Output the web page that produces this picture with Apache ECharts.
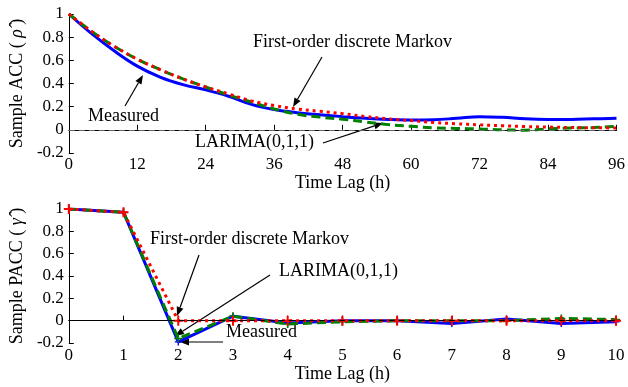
<!DOCTYPE html>
<html>
<head>
<meta charset="utf-8">
<title>ACC / PACC</title>
<script src="https://cdn.jsdelivr.net/npm/echarts@6/dist/echarts.min.js"></script>
<style>
  html, body { margin: 0; padding: 0; background: #fff; }
  #main { width: 628px; height: 387px; }
</style>
</head>
<body>
<div id="main"></div>
<script>
// ACC (top panel), lags in hours
var accLags = [0, 4, 8, 12, 16, 20, 24, 28, 32, 36, 40, 44, 48, 52, 56, 60, 64, 68, 72, 76, 80, 84, 88, 92, 96];
var accMeasured = [1, 0.83, 0.68, 0.55, 0.455, 0.39, 0.345, 0.29, 0.22, 0.175, 0.148, 0.13, 0.114, 0.1, 0.09, 0.085, 0.087, 0.1, 0.114, 0.108, 0.095, 0.09, 0.09, 0.095, 0.1];
var accLarima = [1, 0.85, 0.72, 0.61, 0.52, 0.44, 0.37, 0.3, 0.24, 0.18, 0.135, 0.11, 0.092, 0.068, 0.045, 0.03, 0.018, 0.012, 0.008, 0.0, -0.003, 0.008, 0.015, 0.02, 0.03];
var accMarkov = [1, 0.85, 0.72, 0.61, 0.52, 0.44, 0.37, 0.31, 0.25, 0.21, 0.18, 0.16, 0.14, 0.115, 0.095, 0.08, 0.064, 0.052, 0.043, 0.035, 0.028, 0.024, 0.02, 0.018, 0.016];

// PACC (bottom panel)
var paccLags = [0, 1, 2, 3, 4, 5, 6, 7, 8, 9, 10];
var paccMeasured = [1, 0.97, -0.19, 0.04, -0.02, 0, 0, -0.025, 0.015, -0.025, -0.01];
var paccLarima = [1, 0.97, -0.16, 0.04, -0.03, -0.01, 0, 0, 0, 0.02, 0.01];
var paccMarkov = [1, 0.97, 0, 0, 0, 0, 0, 0, 0, 0, 0];

var FONT = 'Liberation Serif';
var plus = 'path://M4,0H6V4H10V6H6V10H4V6H0V4H4Z';

function pairs(xs, ys) {
  return xs.map(function (x, i) { return [x, ys[i]]; });
}

function arrow(x1, y1, x2, y2) {
  var dx = x2 - x1, dy = y2 - y1, len = Math.sqrt(dx * dx + dy * dy);
  var ux = dx / len, uy = dy / len, hl = 9, hw = 3.5;
  var bx = x2 - ux * hl, by = y2 - uy * hl;
  return [{
    type: 'line', silent: true,
    shape: { x1: x1, y1: y1, x2: bx, y2: by },
    style: { stroke: '#000', lineWidth: 1.2 }
  }, {
    type: 'polygon', silent: true,
    shape: { points: [[x2, y2], [bx - uy * hw, by + ux * hw], [bx + uy * hw, by - ux * hw]] },
    style: { fill: '#000' }
  }];
}

function label(txt, x, y) {
  return {
    type: 'text', silent: true, left: x, top: y,
    style: { text: txt, font: '18px ' + FONT, fill: '#000' }
  };
}

var axisLine = { show: true, lineStyle: { color: '#000', width: 1 } };
var axisTick = { show: true, inside: true, length: 5, lineStyle: { color: '#000' } };
var tickFont = { color: '#000', fontFamily: FONT, fontSize: 17 };
var nameFont = {
  color: '#000', fontFamily: FONT, fontSize: 18,
  rich: { i: { fontFamily: FONT, fontSize: 18, fontStyle: 'italic', color: '#000' } }
};

function zeroLine(color) {
  return {
    silent: true, symbol: 'none', label: { show: false },
    lineStyle: { color: color, type: [6, 4], width: 1 },
    data: [{ yAxis: 0 }]
  };
}

var chart = echarts.init(document.getElementById('main'));
chart.setOption({
  animation: false,
  grid: [
    { left: 63, top: 14, width: 557, height: 139 },
    { left: 65.5, top: 209, width: 550.5, height: 134 }
  ],
  xAxis: [{
    gridIndex: 0, type: 'value', min: 0, max: 96, interval: 12,
    name: 'Time Lag (h)', nameLocation: 'middle', nameGap: 19, nameTextStyle: nameFont,
    axisLine: axisLine, axisTick: axisTick, splitLine: { show: false },
    axisLabel: Object.assign({ margin: 3 }, tickFont)
  }, {
    gridIndex: 1, type: 'value', min: 0, max: 10, interval: 1,
    name: 'Time Lag (h)', nameLocation: 'middle', nameGap: 21, nameTextStyle: nameFont,
    axisLine: axisLine, axisTick: axisTick, splitLine: { show: false },
    axisLabel: Object.assign({ margin: 4 }, tickFont)
  }],
  yAxis: [{
    gridIndex: 0, type: 'value', min: -0.2, max: 1, interval: 0.2,
    name: 'Sample ACC ( {i|\u03C1\u0302} )', nameLocation: 'middle', nameGap: 35, nameTextStyle: nameFont,
    axisLine: axisLine, axisTick: axisTick, splitLine: { show: false },
    axisLabel: Object.assign({ margin: 5 }, tickFont)
  }, {
    gridIndex: 1, type: 'value', min: -0.2, max: 1, interval: 0.2,
    name: 'Sample PACC ( {i|\u03B3\u0302} )', nameLocation: 'middle', nameGap: 37, nameTextStyle: nameFont,
    axisLine: axisLine, axisTick: axisTick, splitLine: { show: false },
    axisLabel: Object.assign({ margin: 5 }, tickFont)
  }],
  series: [{
    name: 'Measured', type: 'line', xAxisIndex: 0, yAxisIndex: 0, smooth: 0.4,
    showSymbol: false, data: pairs(accLags, accMeasured),
    lineStyle: { color: '#0000ff', width: 3 },
    markLine: zeroLine('#666')
  }, {
    name: 'LARIMA(0,1,1)', type: 'line', xAxisIndex: 0, yAxisIndex: 0, smooth: 0.4,
    showSymbol: false, data: pairs(accLags, accLarima),
    lineStyle: { color: '#008000', width: 3, type: [9, 5] }
  }, {
    name: 'First-order discrete Markov', type: 'line', xAxisIndex: 0, yAxisIndex: 0, smooth: 0.4,
    showSymbol: false, data: pairs(accLags, accMarkov),
    lineStyle: { color: '#ff0000', width: 3, type: [3, 4] }
  }, {
    name: 'Measured', type: 'line', xAxisIndex: 1, yAxisIndex: 1,
    symbol: plus, symbolSize: 7, data: pairs(paccLags, paccMeasured),
    lineStyle: { color: '#0000ff', width: 3 }, itemStyle: { color: '#0000ff' },
    markLine: zeroLine('#000')
  }, {
    name: 'LARIMA(0,1,1)', type: 'line', xAxisIndex: 1, yAxisIndex: 1,
    symbol: plus, symbolSize: 8, data: pairs(paccLags, paccLarima),
    lineStyle: { color: '#008000', width: 3, type: [9, 5] }, itemStyle: { color: '#008000' }
  }, {
    name: 'First-order discrete Markov', type: 'line', xAxisIndex: 1, yAxisIndex: 1,
    symbol: plus, symbolSize: 10, data: pairs(paccLags, paccMarkov),
    lineStyle: { color: '#ff0000', width: 3, type: [3, 4] }, itemStyle: { color: '#ff0000' }
  }],
  graphic: [].concat(
    // top panel notes
    label('First-order discrete Markov', 253, 33),
    arrow(322, 57, 293, 107),
    label('Measured', 88, 107),
    arrow(125, 106, 143, 75),
    label('LARIMA(0,1,1)', 195, 133),
    arrow(323, 143, 383, 123),
    // bottom panel notes
    label('First-order discrete Markov', 150, 230),
    arrow(199, 255, 177, 316),
    label('LARIMA(0,1,1)', 279, 262),
    arrow(270, 275, 175, 336),
    label('Measured', 226, 323),
    arrow(223, 342, 180, 342)
  )
});
</script>
</body>
</html>
